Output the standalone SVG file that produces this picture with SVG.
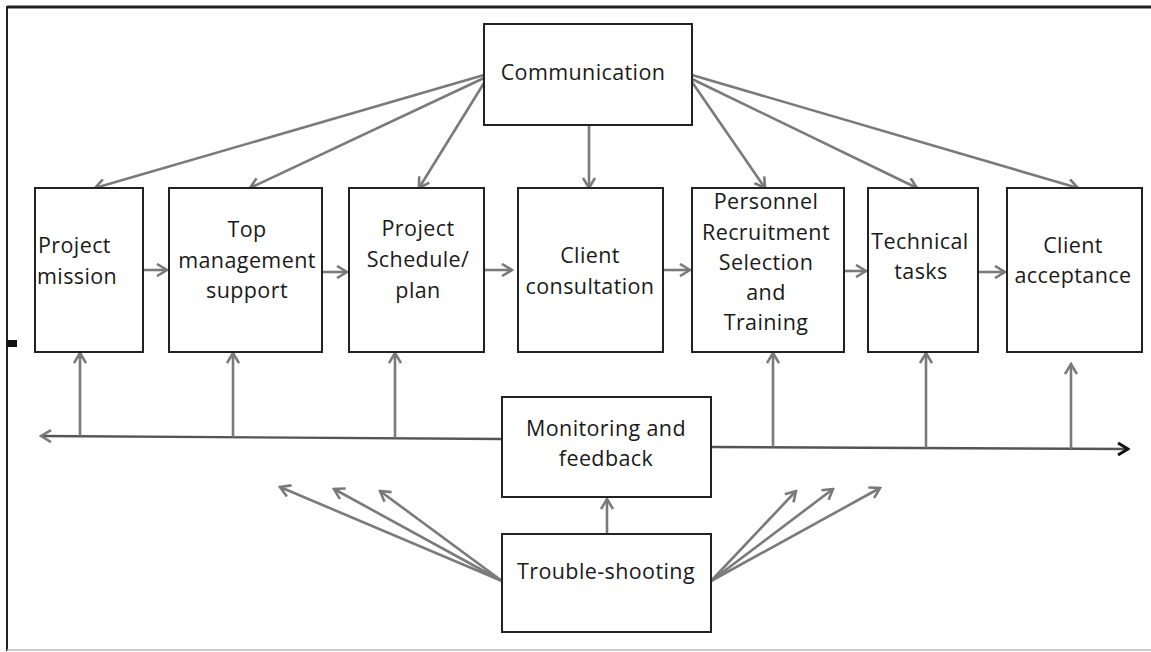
<svg xmlns="http://www.w3.org/2000/svg" width="1151" height="652" viewBox="0 0 1151 652">
<defs>
<style>
.box{fill:#fff;stroke:#222;stroke-width:2}
.t{font-family:"Open Sans","Noto Sans",sans-serif;font-size:21.5px;letter-spacing:0.4px;fill:#1a1a1a;text-anchor:middle}
.c{fill:none;stroke:#7a7a7a;stroke-width:2.6}
.main{fill:none;stroke:#555;stroke-width:2.4}
</style>
<marker id="ah" viewBox="0 0 14 14" markerUnits="userSpaceOnUse" markerWidth="14" markerHeight="14" refX="12" refY="7" orient="auto">
<path d="M2,1 L12,7 L2,13" fill="none" stroke="#7a7a7a" stroke-width="2.6"/>
</marker>
<marker id="ahb" viewBox="0 0 14 14" markerUnits="userSpaceOnUse" markerWidth="14" markerHeight="14" refX="12" refY="7" orient="auto">
<path d="M2,1 L12,7 L2,13" fill="none" stroke="#111" stroke-width="3"/>
</marker>
</defs>
<rect width="1151" height="652" fill="#fff"/>
<g id="frame">
<line x1="7" y1="7" x2="1151" y2="7" stroke="#222" stroke-width="3"/>
<line x1="7" y1="6" x2="7" y2="651" stroke="#222" stroke-width="2"/>
<line x1="7" y1="650" x2="1151" y2="650" stroke="#bbb" stroke-width="1.5"/>
<rect x="7" y="340" width="10" height="7" fill="#111"/>
</g>
<g id="connectors">
<line class="c" x1="484" y1="75" x2="95" y2="188" marker-end="url(#ah)"/>
<line class="c" x1="484" y1="78" x2="250" y2="188" marker-end="url(#ah)"/>
<line class="c" x1="484" y1="83" x2="419" y2="188" marker-end="url(#ah)"/>
<line class="c" x1="589" y1="125" x2="589" y2="188" marker-end="url(#ah)"/>
<line class="c" x1="692" y1="82" x2="765" y2="188" marker-end="url(#ah)"/>
<line class="c" x1="692" y1="79" x2="917" y2="188" marker-end="url(#ah)"/>
<line class="c" x1="692" y1="75" x2="1078" y2="188" marker-end="url(#ah)"/>
<line class="c" x1="143" y1="270" x2="167" y2="270" marker-end="url(#ah)"/>
<line class="c" x1="322" y1="272" x2="347" y2="272" marker-end="url(#ah)"/>
<line class="c" x1="484" y1="270" x2="512" y2="270" marker-end="url(#ah)"/>
<line class="c" x1="663" y1="270" x2="690" y2="270" marker-end="url(#ah)"/>
<line class="c" x1="844" y1="271" x2="866" y2="271" marker-end="url(#ah)"/>
<line class="c" x1="978" y1="272" x2="1005" y2="272" marker-end="url(#ah)"/>
<line class="main" x1="502" y1="439" x2="41" y2="436" marker-end="url(#ah)"/>
<line class="main" x1="711" y1="447" x2="1128" y2="449" marker-end="url(#ahb)"/>
<line class="c" x1="80" y1="436" x2="80" y2="353" marker-end="url(#ah)"/>
<line class="c" x1="233" y1="437" x2="233" y2="353" marker-end="url(#ah)"/>
<line class="c" x1="395" y1="438" x2="395" y2="353" marker-end="url(#ah)"/>
<line class="c" x1="773" y1="447" x2="773" y2="353" marker-end="url(#ah)"/>
<line class="c" x1="926" y1="448" x2="926" y2="353" marker-end="url(#ah)"/>
<line class="c" x1="1071" y1="449" x2="1071" y2="364" marker-end="url(#ah)"/>
<line class="c" x1="607" y1="534" x2="607" y2="499" marker-end="url(#ah)"/>
<line class="c" x1="502" y1="581" x2="280" y2="487" marker-end="url(#ah)"/>
<line class="c" x1="502" y1="581" x2="334" y2="489" marker-end="url(#ah)"/>
<line class="c" x1="502" y1="581" x2="380" y2="491" marker-end="url(#ah)"/>
<line class="c" x1="711" y1="581" x2="796" y2="491" marker-end="url(#ah)"/>
<line class="c" x1="711" y1="581" x2="833" y2="489" marker-end="url(#ah)"/>
<line class="c" x1="711" y1="581" x2="880" y2="488" marker-end="url(#ah)"/>
</g>
<g id="communication">
<rect class="box" x="484" y="24" width="208" height="101"/>
<text class="t" x="583" y="80">Communication</text>
</g>
<g id="project-mission">
<rect class="box" x="35" y="188" width="108" height="164"/>
<text class="t" x="38" y="253" style="text-anchor:start">Project</text>
<text class="t" x="37" y="284" style="text-anchor:start">mission</text>
</g>
<g id="top-management">
<rect class="box" x="169" y="188" width="153" height="164"/>
<text class="t" x="247" y="237">Top</text>
<text class="t" x="247" y="268">management</text>
<text class="t" x="247" y="298">support</text>
</g>
<g id="project-schedule">
<rect class="box" x="349" y="188" width="135" height="164"/>
<text class="t" x="418" y="236">Project</text>
<text class="t" x="418" y="267">Schedule/</text>
<text class="t" x="418" y="298">plan</text>
</g>
<g id="client-consultation">
<rect class="box" x="518" y="188" width="145" height="164"/>
<text class="t" x="590" y="263">Client</text>
<text class="t" x="590" y="294">consultation</text>
</g>
<g id="personnel">
<rect class="box" x="692" y="188" width="152" height="164"/>
<text class="t" x="766" y="209">Personnel</text>
<text class="t" x="766" y="240">Recruitment</text>
<text class="t" x="766" y="270">Selection</text>
<text class="t" x="766" y="300">and</text>
<text class="t" x="766" y="330">Training</text>
</g>
<g id="technical-tasks">
<rect class="box" x="868" y="188" width="110" height="164"/>
<text class="t" x="920" y="249">Technical</text>
<text class="t" x="921" y="279">tasks</text>
</g>
<g id="client-acceptance">
<rect class="box" x="1007" y="188" width="135" height="164"/>
<text class="t" x="1073" y="253">Client</text>
<text class="t" x="1073" y="283">acceptance</text>
</g>
<g id="monitoring">
<rect class="box" x="502" y="397" width="209" height="100"/>
<text class="t" x="606" y="436">Monitoring and</text>
<text class="t" x="606" y="466">feedback</text>
</g>
<g id="trouble-shooting">
<rect class="box" x="502" y="534" width="209" height="98"/>
<text class="t" x="606" y="579">Trouble-shooting</text>
</g>
</svg>
